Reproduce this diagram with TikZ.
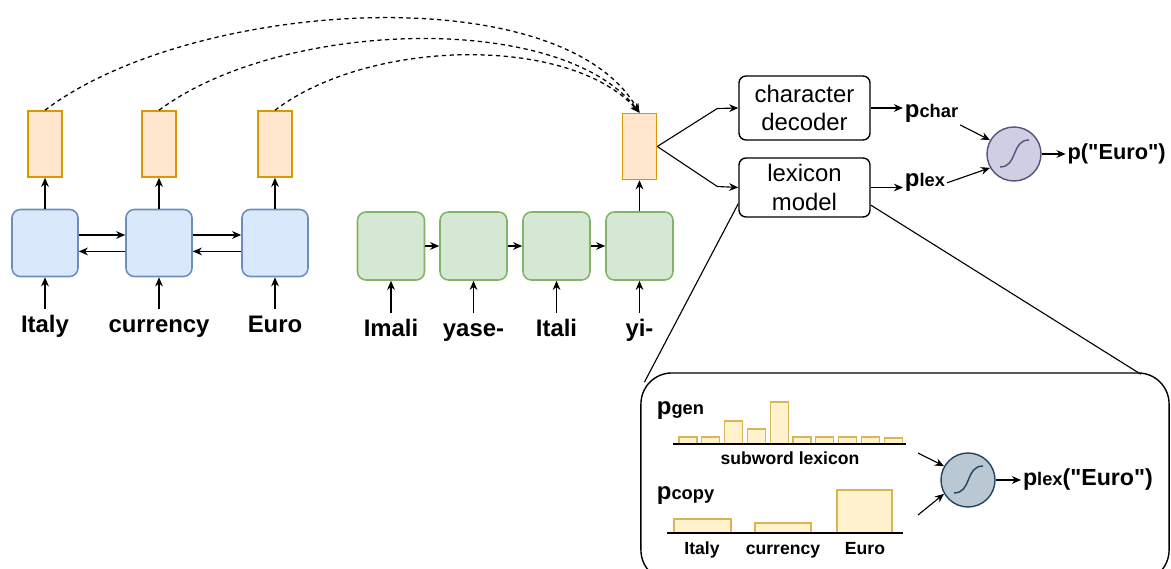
\documentclass[tikz,border=0pt]{standalone}
\usepackage{fontspec}
\setmainfont{Liberation Sans}
\usetikzlibrary{arrows.meta,calc}

\definecolor{hidfill}{HTML}{FFE6CC}
\definecolor{hiddraw}{HTML}{D79B00}
\definecolor{encfill}{HTML}{DAE8FC}
\definecolor{encdraw}{HTML}{6C8EBF}
\definecolor{decfill}{HTML}{D5E8D4}
\definecolor{decdraw}{HTML}{82B366}
\definecolor{mixfill}{HTML}{D0CEE2}
\definecolor{mixdraw}{HTML}{56517E}
\definecolor{lexfill}{HTML}{BAC8D3}
\definecolor{lexdraw}{HTML}{23445D}
\definecolor{barfill}{HTML}{FFF2CC}
\definecolor{bardraw}{HTML}{D6B656}

\newcommand{\pbig}{\fontsize{17}{17}\selectfont}
\newcommand{\psub}{\fontsize{13}{13}\selectfont}

\begin{document}
\begin{tikzpicture}[x=0.025cm,y=-0.025cm,line width=0.8pt,>={Stealth[length=6.5pt,width=5.5pt]}]
\tikzstyle{hid}=[draw=hiddraw,fill=hidfill,line width=1.1pt,minimum width=0.85cm,minimum height=1.65cm,inner sep=0]
\tikzstyle{enc}=[draw=encdraw,fill=encfill,line width=1.1pt,rounded corners=6pt,minimum width=1.65cm,minimum height=1.675cm,inner sep=0]
\tikzstyle{dec}=[draw=decdraw,fill=decfill,line width=1.1pt,rounded corners=6pt,minimum width=1.675cm,minimum height=1.7cm,inner sep=0]
\tikzstyle{word}=[font=\fontsize{17}{17}\selectfont\bfseries,anchor=base,text height=12.5pt,text depth=3.5pt,inner sep=4.5pt]
\tikzstyle{module}=[draw,line width=1pt,rounded corners=5pt,minimum width=3.275cm,inner sep=1pt,align=center,font=\fontsize{17}{20.5}\selectfont]
\tikzstyle{mixer}=[circle,line width=1pt,minimum size=1.35cm,inner sep=0]
\tikzstyle{prob}=[font=\bfseries,inner sep=1pt]
\tikzstyle{bar}=[draw=bardraw,fill=barfill,line width=0.8pt]
\tikzstyle{tick}=[font=\fontsize{12.5}{12.5}\selectfont\bfseries,anchor=base]
\tikzstyle{attn}=[->,dash pattern=on 3pt off 2.5pt,line width=0.9pt]
\useasboundingbox (0,0) rectangle (1171,569);
\clip (0,0) rectangle (1171,569);

% encoder over the source words
\foreach \x/\w [count=\i] in {45/Italy,159/currency,275/Euro}{
  \node[enc] (b\i) at (\x,243) {};
  \node[hid] (h\i) at (\x,144) {};
  \node[word] (w\i) at (\x,333) {\w};
  \draw[->] (w\i.north) -- (b\i.south);
  \draw[->] (b\i.north) -- (h\i.south);
}
\draw[->] ([yshift=5.7pt]b1.east) -- ([yshift=5.7pt]b2.west);
\draw[->] ([yshift=-6pt]b2.west) -- ([yshift=-6pt]b1.east);
\draw[->] ([yshift=5.7pt]b2.east) -- ([yshift=5.7pt]b3.west);
\draw[->] ([yshift=-6pt]b3.west) -- ([yshift=-6pt]b2.east);

% decoder over the target subwords
\foreach \x/\w [count=\i] in {391/Imali,473.5/yase-,556.5/Itali,639.5/yi-}{
  \node[dec] (g\i) at (\x,246) {};
  \node[word] (v\i) at (\x,337) {\w};
  \draw[->] (v\i.north) -- (g\i.south);
}
\draw[->] (g1) -- (g2);
\draw[->] (g2) -- (g3);
\draw[->] (g3) -- (g4);
\node[hid] (hy) at (639.5,146.5) {};
\draw[->] (g4.north) -- (hy.south);

% attention
\draw[attn] (h1.north) .. controls (190,0) and (560,-25) .. (hy.north);
\draw[attn] (h2.north) .. controls (280,20) and (560,10) .. (hy.north);
\draw[attn] (h3.north) .. controls (370,38) and (570,35) .. (hy.north);

% output heads
\node[module,minimum height=1.6cm] (chr) at (804.5,108) {character\\decoder};
\node[module,minimum height=1.475cm] (lex) at (804.5,187.5) {lexicon\\model};
\draw[->] (hy.east) -- ++(60,-38) -- (chr.west);
\draw[->] (hy.east) -- ++(60,40) -- (lex.west);

\node[prob,anchor=base west] (pchar) at (903,118) {\pbig p\psub char};
\node[prob,anchor=base west] (plex) at (903,187) {\pbig p\psub lex};
\draw[->] (chr.east) -- (chr.east -| pchar.west);
\draw[->] (lex.east) -- (lex.east -| plex.west);

\node[mixer,draw=mixdraw,fill=mixfill] (mix) at (1014,154) {};
\draw[->] (pchar.south east) -- (mix.150);
\draw[->] (plex.east) -- (mix.210);
\node[prob,anchor=west] (peuro) at ([xshift=17pt]mix.east) {\fontsize{15.5}{15.5}\selectfont p(\textquotedbl Euro\textquotedbl)};
\draw[->] (mix) -- (peuro);

% zoom into the lexicon model
\node[draw,line width=1pt,rounded corners=22pt,minimum width=13.2cm,minimum height=5.2cm] (inset) at (905,477) {};
\draw ([yshift=10pt]lex.south west) -- ([shift={(3pt,-7pt)}]inset.north west);
\draw ([yshift=9pt]lex.south east) -- ([shift={(-20.6pt,-1.4pt)}]inset.north east);

\node[prob,anchor=base west] (pgen) at (655,415) {\pbig p\psub gen};
\foreach \h [count=\i from 0] in {7,7,23,15,42,7,7,7,7,6}
  \draw[bar] (679+22.8*\i,444) rectangle ++(18,-\h);
\draw (673,444) -- (906,444);
\node[tick] (lexi) at (790,465) {subword lexicon};

\node[prob,anchor=base west] (pcopy) at (655,500) {\pbig p\psub copy};
\draw[bar] (674,533) rectangle (731,519);
\draw[bar] (755,533) rectangle (811,523);
\draw[bar] (837,533) rectangle (892,490);
\draw (667,533) -- (903,533);
\node[tick] (c1) at (702,555) {Italy};
\node[tick] (c2) at (783,555) {currency};
\node[tick] (c3) at (865,555) {Euro};

\node[mixer,draw=lexdraw,fill=lexfill] (mixlex) at (968,480) {};
\coordinate (gin) at (918,453);
\coordinate (cin) at (918,515);
\draw[->] (gin) -- (mixlex.150);
\draw[->] (cin) -- (mixlex.210);
\node[prob,anchor=west] (plexeuro) at ([xshift=18pt]mixlex.east) {\fontsize{16.5}{16.5}\selectfont p\psub lex\fontsize{16.5}{16.5}\selectfont(\textquotedbl Euro\textquotedbl)};
\draw[->] (mixlex) -- (plexeuro);

\foreach \c/\col in {mix/mixdraw,mixlex/lexdraw}
  \draw[\col,line width=1pt] ($(\c)+(-14,13)$) .. controls ($(\c)+(4,13)$) and ($(\c)+(-3,-14)$) .. ($(\c)+(15,-14)$);
\end{tikzpicture}
\end{document}
